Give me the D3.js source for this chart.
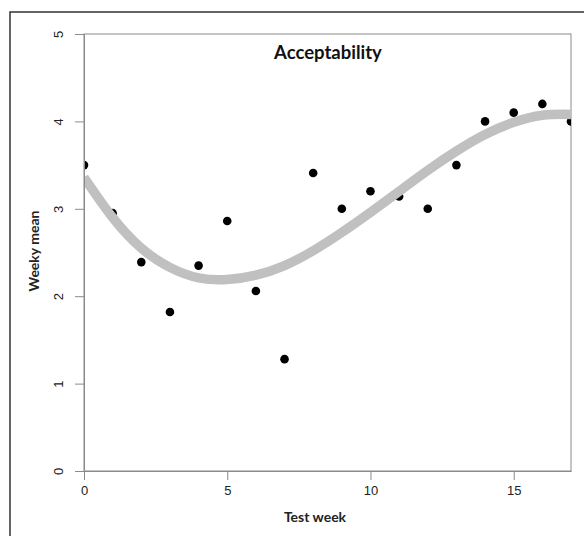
<!DOCTYPE html>
<html>
<head>
<meta charset="utf-8">
<script src="https://cdn.jsdelivr.net/npm/d3@7"></script>
<style>
  body { margin: 0; background: #fff; }
  svg { display: block; }
</style>
</head>
<body>
<svg></svg>
<script>
// weekly means
const weeks = [0, 1, 2, 3, 4, 5, 6, 7, 8, 9, 10, 11, 12, 13, 14, 15, 16, 17];
const means = [3.50, 2.95, 2.39, 1.82, 2.35, 2.86, 2.06, 1.28, 3.41, 3.00, 3.20, 3.14, 3.00, 3.50, 4.00, 4.10, 4.20, 4.00];
// fitted trend, sampled at each week
const trend = [3.36, 2.90, 2.55, 2.33, 2.21, 2.19, 2.24, 2.35, 2.52, 2.73, 2.96, 3.20, 3.44, 3.66, 3.85, 3.99, 4.07, 4.08];
const xTicks = [0, 5, 10, 15];
const yTicks = [0, 1, 2, 3, 4, 5];

const width = 584, height = 536;
const mLeft = 84, mRight = 571, mTop = 34, mBottom = 471;

const svg = d3.select('svg').attr('width', width).attr('height', height);

// outer frame
svg.append('rect')
  .attr('x', 10).attr('y', 12).attr('width', 700).attr('height', 700)
  .attr('fill', 'none').attr('stroke', '#333').attr('stroke-width', 1.5);

const x = d3.scaleLinear().domain([0, 17]).range([mLeft, mRight]);
const y = d3.scaleLinear().domain([0, 5]).range([mBottom, mTop]);

svg.append('clipPath').attr('id', 'plotclip')
  .append('rect').attr('x', mLeft).attr('y', mTop)
  .attr('width', mRight - mLeft).attr('height', mBottom - mTop);

// box
svg.append('rect')
  .attr('x', mLeft).attr('y', mTop).attr('width', mRight - mLeft).attr('height', mBottom - mTop)
  .attr('fill', 'none').attr('stroke', '#8a8a8a').attr('stroke-width', 1);

const g = svg.append('g').attr('clip-path', 'url(#plotclip)');

g.selectAll('circle').data(weeks).join('circle')
  .attr('cx', d => x(d))
  .attr('cy', (d, i) => y(means[i]))
  .attr('r', 4.3)
  .attr('fill', '#000');

const line = d3.line()
  .x(d => x(d))
  .y((d, i) => y(trend[i]))
  .curve(d3.curveNatural);

g.append('path').datum(weeks)
  .attr('d', line)
  .attr('fill', 'none')
  .attr('stroke', '#c0c0c0')
  .attr('stroke-width', 9.5);

// axes
const xAxis = svg.append('g').attr('transform', `translate(0,${mBottom})`)
  .call(d3.axisBottom(x).tickValues(xTicks).tickFormat(d3.format('d')).tickSizeInner(9).tickSizeOuter(0).tickPadding(6));
const yAxis = svg.append('g').attr('transform', `translate(${mLeft},0)`)
  .call(d3.axisLeft(y).tickValues(yTicks).tickFormat(d3.format('d')).tickSizeInner(9).tickSizeOuter(0).tickPadding(16));

[xAxis, yAxis].forEach(a => {
  a.select('.domain').attr('stroke', '#8a8a8a');
  a.selectAll('.tick line').attr('stroke', '#8a8a8a');
  a.selectAll('.tick text')
    .attr('fill', '#222')
    .style('font-family', '"Liberation Sans", Arial, sans-serif')
    .style('font-size', '13px');
});

yAxis.selectAll('.tick text')
  .attr('x', null).attr('dy', null)
  .attr('text-anchor', 'middle')
  .attr('transform', 'translate(-26,0) rotate(-90) translate(0,4.5)');

// title and labels
svg.append('text')
  .attr('x', 328).attr('y', 59)
  .attr('text-anchor', 'middle')
  .style('font-family', 'Lato, "Open Sans", sans-serif')
  .style('font-weight', 'bold').style('font-size', '18.5px')
  .attr('fill', '#111')
  .text('Acceptability');

svg.append('text')
  .attr('x', 315).attr('y', 522)
  .attr('text-anchor', 'middle')
  .style('font-family', 'Lato, "Open Sans", sans-serif')
  .style('font-weight', 'bold').style('font-size', '14px')
  .attr('fill', '#222')
  .text('Test week');

svg.append('text')
  .attr('transform', 'translate(39,251) rotate(-90)')
  .attr('text-anchor', 'middle')
  .style('font-family', 'Lato, "Open Sans", sans-serif')
  .style('font-weight', 'bold').style('font-size', '14px')
  .attr('fill', '#222')
  .text('Weeky mean');
</script>
</body>
</html>
